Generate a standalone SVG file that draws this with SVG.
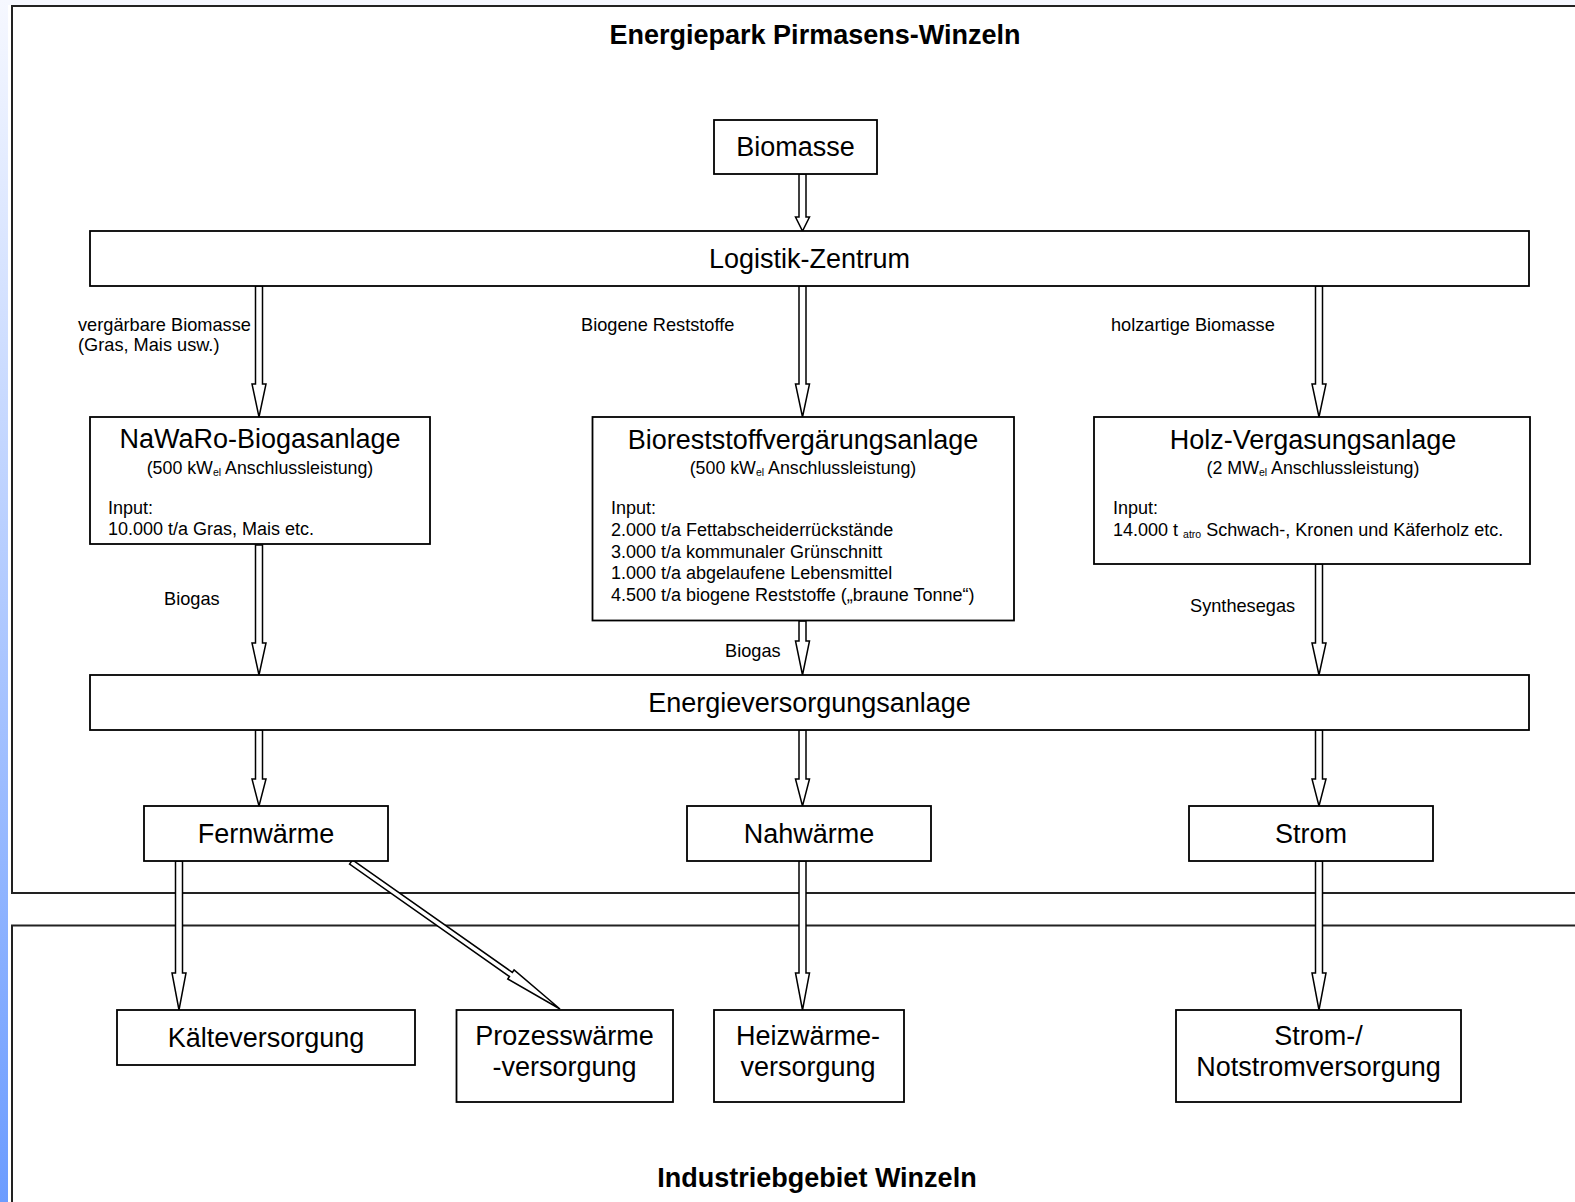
<svg xmlns="http://www.w3.org/2000/svg" width="1575" height="1202" viewBox="0 0 1575 1202">
<defs>
<linearGradient id="strip" x1="0" y1="0" x2="0" y2="1">
<stop offset="0" stop-color="#f6f8ff"/>
<stop offset="1" stop-color="#6c9cff"/>
</linearGradient>
</defs>
<style>
.frame{fill:none;stroke:#222;stroke-width:2}
.box{fill:#fff;stroke:#000;stroke-width:1.8}
.arr{fill:#fff;stroke:#000;stroke-width:1.5;stroke-linejoin:miter}
text{font-family:"Liberation Sans",Arial,sans-serif;fill:#000}
.title{font-size:27px;font-weight:bold;text-anchor:middle}
.big{font-size:27px;text-anchor:middle}
.sub{font-size:17.8px;text-anchor:middle}
.small{font-size:18px}
.lbl{font-size:18.2px}
.tiny{font-size:10.5px}
</style>
<rect x="0" y="0" width="1575" height="1202" fill="#fff"/>
<rect x="0" y="0" width="1575" height="5" fill="#f6f8ff"/>
<rect x="0" y="0" width="8" height="1202" fill="url(#strip)"/>

<g id="frames">
<path class="frame" d="M1575,6 H12 V893 H1575"/>
<path class="frame" d="M1575,925.5 H12 V1203"/>
<text class="title" x="815" y="44">Energiepark Pirmasens-Winzeln</text>
<text class="title" x="817" y="1187">Industriebgebiet Winzeln</text>
</g>

<g id="connectors">
<polygon class="arr" points="799,174 799,217 795.5,217 802.5,231 809.5,217 806,217 806,174"/>
<polygon class="arr" points="255.5,286 255.5,384 252,384 259,417 266,384 262.5,384 262.5,286"/>
<polygon class="arr" points="799,286 799,384 795.5,384 802.5,417 809.5,384 806,384 806,286"/>
<polygon class="arr" points="1315.5,286 1315.5,384 1312,384 1319,417 1326,384 1322.5,384 1322.5,286"/>
<polygon class="arr" points="255.5,545 255.5,643 252,643 259,675 266,643 262.5,643 262.5,545"/>
<polygon class="arr" points="799,621 799,641 795.5,641 802.5,675 809.5,641 806,641 806,621"/>
<polygon class="arr" points="1315.5,564 1315.5,643 1312,643 1319,675 1326,643 1322.5,643 1322.5,564"/>
<polygon class="arr" points="255.5,730 255.5,779 252,779 259,806 266,779 262.5,779 262.5,730"/>
<polygon class="arr" points="799,730 799,779 795.5,779 802.5,806 809.5,779 806,779 806,730"/>
<polygon class="arr" points="1315.5,730 1315.5,779 1312,779 1319,806 1326,779 1322.5,779 1322.5,730"/>
<polygon class="arr" points="175.5,861 175.5,973 172,973 179,1010 186,973 182.5,973 182.5,861"/>
<polygon class="arr" points="799,861 799,973 795.5,973 802.5,1010 809.5,973 806,973 806,861"/>
<polygon class="arr" points="1315.5,861 1315.5,973 1312,973 1319,1010 1326,973 1322.5,973 1322.5,861"/>
<path class="arr" transform="translate(351,862) rotate(35.12)" d="M0,-2.5 L195.5,-2.5 L195.5,-5.5 L255.5,0 L195.5,5.5 L195.5,2.5 L0,2.5 Z"/>
<text class="lbl" x="78" y="331">vergärbare Biomasse</text>
<text class="lbl" x="78" y="351">(Gras, Mais usw.)</text>
<text class="lbl" x="581" y="331">Biogene Reststoffe</text>
<text class="lbl" x="1111" y="331">holzartige Biomasse</text>
<text class="lbl" x="164" y="605">Biogas</text>
<text class="lbl" x="725" y="657">Biogas</text>
<text class="lbl" x="1190" y="612">Synthesegas</text>
</g>

<g id="biomasse">
<rect class="box" x="714" y="120" width="163" height="54"/>
<text class="big" x="795.5" y="156">Biomasse</text>
</g>
<g id="logistik">
<rect class="box" x="90" y="231" width="1439" height="55"/>
<text class="big" x="809.5" y="268">Logistik-Zentrum</text>
</g>
<g id="nawaro">
<rect class="box" x="90" y="417" width="340" height="127"/>
<text class="big" x="260" y="448">NaWaRo-Biogasanlage</text>
<text class="sub" x="260" y="474">(500 kW<tspan class="tiny" dy="2">el</tspan><tspan dy="-2"> Anschlussleistung)</tspan></text>
<text class="small" x="108" y="514">Input:</text>
<text class="small" x="108" y="535">10.000 t/a Gras, Mais etc.</text>
</g>
<g id="bioreststoff">
<rect class="box" x="592.5" y="417" width="421.5" height="203.5"/>
<text class="big" x="803" y="449">Bioreststoffvergärungsanlage</text>
<text class="sub" x="803" y="474">(500 kW<tspan class="tiny" dy="2">el</tspan><tspan dy="-2"> Anschlussleistung)</tspan></text>
<text class="small" x="611" y="514">Input:</text>
<text class="small" x="611" y="536">2.000 t/a Fettabscheiderrückstände</text>
<text class="small" x="611" y="557.5">3.000 t/a kommunaler Grünschnitt</text>
<text class="small" x="611" y="579">1.000 t/a abgelaufene Lebensmittel</text>
<text class="small" x="611" y="600.5">4.500 t/a biogene Reststoffe („braune Tonne“)</text>
</g>
<g id="holz">
<rect class="box" x="1094" y="417" width="436" height="147"/>
<text class="big" x="1313" y="449">Holz-Vergasungsanlage</text>
<text class="sub" x="1313" y="474">(2 MW<tspan class="tiny" dy="2">el</tspan><tspan dy="-2"> Anschlussleistung)</tspan></text>
<text class="small" x="1113" y="514">Input:</text>
<text class="small" x="1113" y="536">14.000 t <tspan class="tiny" dy="2">atro</tspan><tspan dy="-2"> Schwach-, Kronen und Käferholz etc.</tspan></text>
</g>
<g id="energie">
<rect class="box" x="90" y="675" width="1439" height="55"/>
<text class="big" x="809.5" y="712">Energieversorgungsanlage</text>
</g>
<g id="fernwaerme">
<rect class="box" x="144" y="806" width="244" height="55"/>
<text class="big" x="266" y="843">Fernwärme</text>
</g>
<g id="nahwaerme">
<rect class="box" x="687" y="806" width="244" height="55"/>
<text class="big" x="809" y="843">Nahwärme</text>
</g>
<g id="strom">
<rect class="box" x="1189" y="806" width="244" height="55"/>
<text class="big" x="1311" y="843">Strom</text>
</g>
<g id="kaelte">
<rect class="box" x="117" y="1010" width="298" height="55"/>
<text class="big" x="266" y="1047">Kälteversorgung</text>
</g>
<g id="prozess">
<rect class="box" x="456.5" y="1010" width="216.5" height="92"/>
<text class="big" x="564.5" y="1045">Prozesswärme</text>
<text class="big" x="564.5" y="1076">-versorgung</text>
</g>
<g id="heiz">
<rect class="box" x="714" y="1010" width="190" height="92"/>
<text class="big" x="808" y="1045">Heizwärme-</text>
<text class="big" x="808" y="1076">versorgung</text>
</g>
<g id="notstrom">
<rect class="box" x="1176" y="1010" width="285" height="92"/>
<text class="big" x="1318.5" y="1045">Strom-/</text>
<text class="big" x="1318.5" y="1076">Notstromversorgung</text>
</g>
</svg>
